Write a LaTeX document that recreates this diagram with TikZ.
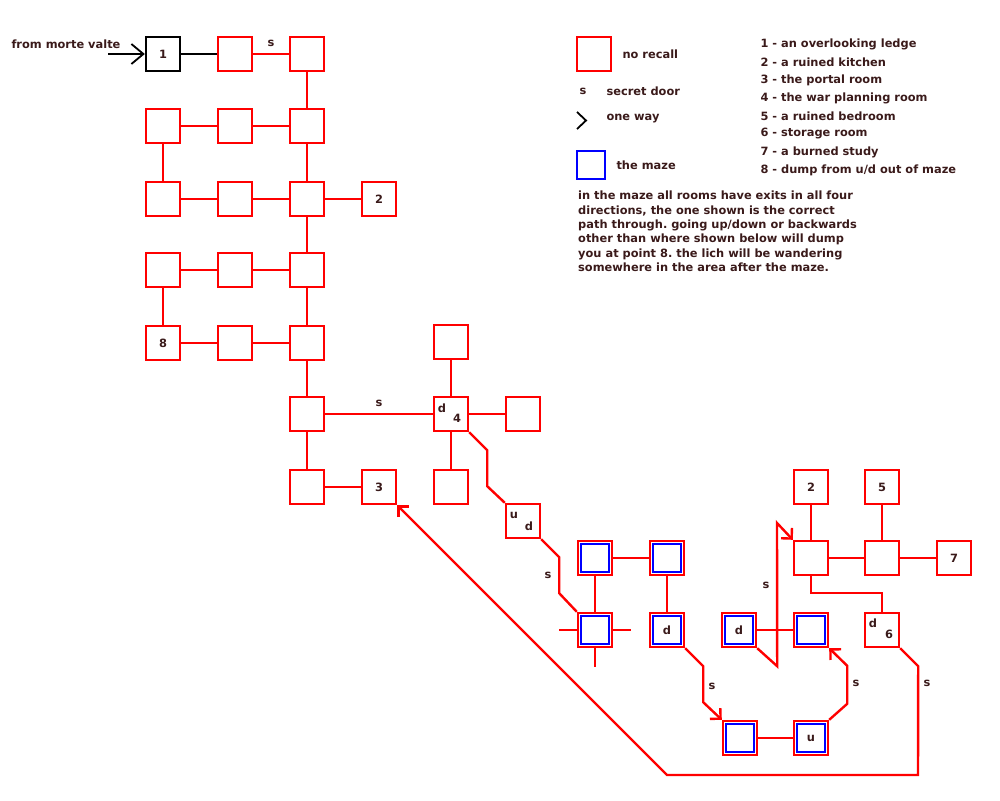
\documentclass[tikz,border=0pt]{standalone}
\usepackage{fontspec}
\setmainfont{DejaVu Sans}
\usetikzlibrary{arrows.meta}
\definecolor{ink}{HTML}{3A1A1A}
\definecolor{wallred}{HTML}{FF0000}
\definecolor{mazeblue}{HTML}{0000FF}
\frenchspacing
\begin{document}
\begin{tikzpicture}[x=1pt, y=-1pt,
    lbl/.style={text=ink, font=\bfseries\fontsize{11.4}{14.3}\selectfont},
    room/.style={lbl, draw=wallred, line width=2.4pt, minimum size=34pt, inner sep=0pt},
    maze/.style={room, path picture={\draw[mazeblue, line width=2.2pt]
        ([shift={(2.9pt,2.9pt)}]path picture bounding box.south west) rectangle
        ([shift={(-2.9pt,-2.9pt)}]path picture bounding box.north east);}},
    link/.style={draw=wallred, line width=2.4pt},
    oneway/.style={link, -{Straight Barb[angle=90:10.6pt]}},
]
    \useasboundingbox (0,0) rectangle (1000,800);

    % rooms
    \node[room, draw=black] (n1) at (163,54) {1};
    \foreach \n/\x/\y in {g12/235/54, g13/307/54,
                          g21/163/126, g22/235/126, g23/307/126,
                          g31/163/199, g32/235/199, g33/307/199,
                          g41/163/270, g42/235/270, g43/307/270,
                          g52/235/343, g53/307/343,
                          g63/307/414, g73/307/487,
                          w1/451/342, w2/523/414, w3/451/487,
                          ud/523/521, hub/811/558, hall/882/558, store/882/630}
    {
        \node[room] (\n) at (\x,\y) {};
    }
    \node[room] (kitchen) at (379,199) {2};
    \node[room] (dump) at (163,343) {8};
    \node[room] (war) at (451,414) {};
    \node[room] (portal) at (379,487) {3};
    \node[room] (kitchen2) at (811,487) {2};
    \node[room] (bed) at (882,487) {5};
    \node[room] (study) at (954,558) {7};

    \node[lbl] (wd) at (442,408) {d};
    \node[lbl] (w4) at (457,418) {4};
    \node[lbl] (uu) at (514,515) {u};
    \node[lbl] (ud2) at (529,526) {d};
    \node[lbl] (sd) at (873,623) {d};
    \node[lbl] (s6) at (889,634) {6};

    % the maze
    \foreach \n/\x/\y/\t in {m1/595/558/, m2/667/558/, m3/595/630/, m4/667/630/d,
                             m5/739/630/d, m6/811/630/, m7/740/738/, m8/811/738/u}
    {
        \node[maze] (\n) at (\x,\y) {\t};
    }

    % entry
    \node[lbl, anchor=east] (from) at (124,44) {from morte valte};
    \coordinate (entry) at (108,54);
    \draw[line width=1.8pt, -{Straight Barb[length=12pt,width=20pt]}] (entry) -- (n1.west);
    \draw[line width=2pt] (n1) -- (g12);

    % links
    \draw[link] (g12) -- node[lbl, above=3pt] {s} (g13);
    \draw[link] (g13) -- (g23) -- (g33) -- (g43) -- (g53) -- (g63) -- (g73) -- (portal);
    \draw[link] (g21) -- (g22) -- (g23);
    \draw[link] (g21) -- (g31) -- (g32) -- (g33) -- (kitchen);
    \draw[link] (g41) -- (g42) -- (g43);
    \draw[link] (g41) -- (dump) -- (g52) -- (g53);
    \draw[link] (g63) -- node[lbl, above=3pt] {s} (war);
    \draw[link] (w1) -- (war) -- (w3);
    \draw[link] (war) -- (w2);
    \draw[link] (war.south east) -- ++(18,18) -- ++(0,36) -- (ud.north west);
    \draw[link] (ud.south east) -- ++(18,18) -- ++(0,36) -- (m3.north west);
    \node[lbl] (sa) at (548,575) {s};

    \draw[link] (m1) -- (m2) -- (m4);
    \draw[link] (m1) -- (m3);
    \draw[link] (m3.west) -- ++(-18,0);
    \draw[link] (m3.east) -- ++(18,0);
    \draw[link] (m3.south) -- ++(0,19);
    \draw[link] (m5) -- (m6);
    \draw[link] (m7) -- (m8);

    \draw[oneway] (m4.south east) -- ++(18,18) -- ++(0,36) -- (m7.north west);
    \node[lbl] (sb) at (712,686) {s};
    \draw[oneway] (m5.south east) -- ++(20,18) -- (777,523) -- (hub.north west);
    \node[lbl] (sc) at (766,585) {s};
    \draw[oneway] (m8.north east) -- ++(18,-16) -- ++(0,-38) -- (m6.south east);
    \node[lbl] (sd2) at (856,683) {s};
    \draw[oneway] (store.south east) -- ++(18,18) -- (918,775) -- (667,775) -- (portal.south east);
    \node[lbl] (se) at (927,683) {s};

    \draw[link] (kitchen2) -- (hub) -- (hall) -- (study);
    \draw[link] (bed) -- (hall);
    \draw[link] (hub.south) -- ++(0,17) -| (store.north);

    % legend
    \node[room] (keyred) at (594,54) {};
    \node[lbl, anchor=west] (keyredt) at (619,54) {no recall};
    \node[lbl] (keys) at (583,91) {s};
    \node[lbl, anchor=west] (keyst) at (603,91) {secret door};
    \draw[line width=1.8pt] (577,112) -- (586,120.5) -- (577,129);
    \node[lbl, anchor=west] (keyot) at (603,119) {one way};
    \node[draw=mazeblue, line width=2.2pt, minimum size=28pt, inner sep=0pt] (keyblue) at (591,165) {};
    \node[lbl, anchor=west] (keybt) at (613,165) {the maze};

    \foreach \t [count=\i] in {1 - an overlooking ledge, 2 - a ruined kitchen,
                               3 - the portal room, 4 - the war planning room,
                               5 - a ruined bedroom, 6 - storage room,
                               7 - a burned study, 8 - dump from u/d out of maze}
    {
        \node[lbl, anchor=west] (list\i) at (757,{26+18*\i}) {\t};
    }

    \node[lbl, anchor=north west, align=left, inner sep=0pt] (note) at (578,191)
        {in the maze all rooms have exits in all four\\
         directions, the one shown is the correct\\
         path through. going up/down or backwards\\
         other than where shown below will dump\\
         you at point 8. the lich will be wandering\\
         somewhere in the area after the maze.};
\end{tikzpicture}
\end{document}
